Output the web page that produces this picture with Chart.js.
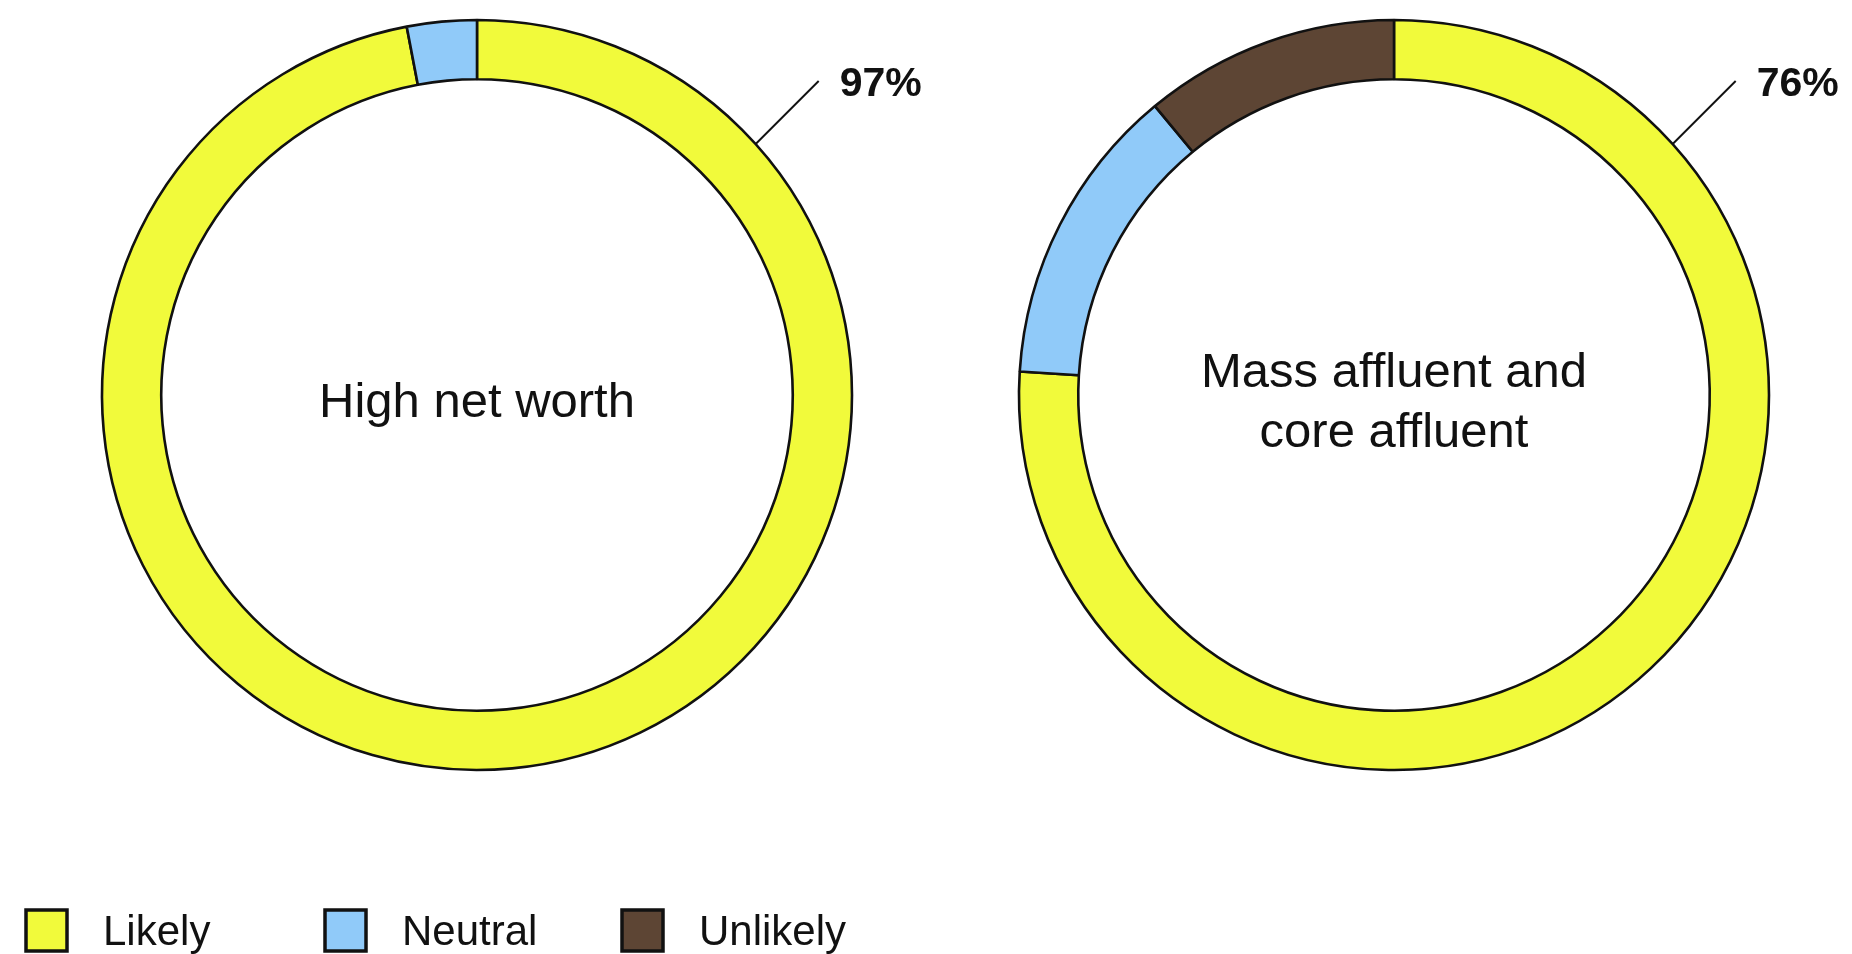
<!DOCTYPE html>
<html>
<head>
<meta charset="utf-8">
<title>Likelihood by wealth segment</title>
<script src="https://cdn.jsdelivr.net/npm/chart.js@4/dist/chart.umd.min.js"></script>
<style>
  html, body { margin: 0; padding: 0; background: #ffffff; }
  #wrap { position: relative; width: 1852px; height: 954px; overflow: hidden; }
  #wrap canvas { position: absolute; left: 0; top: 0; }
</style>
</head>
<body>
<div id="wrap">
  <canvas id="hnw" width="1852" height="954"></canvas>
  <canvas id="mass" width="1852" height="954"></canvas>
</div>
<script>
// Response categories and their colours
const categories = ['Likely', 'Neutral', 'Unlikely'];
const categoryColors = ['#F1FA3B', '#90CAF9', '#5D4534'];

// Share of respondents (%) per segment
const highNetWorthValues = [97, 3, 0];
const massAffluentValues = [76, 13, 11];

// Segment names shown inside each ring
const highNetWorthTitle = ['High net worth'];
const massAffluentTitle = ['Mass affluent and', 'core affluent'];

const FONT = '"Liberation Sans", Arial, Helvetica, sans-serif';

// Text in the ring centre plus the callout for the first category
const ringText = {
  id: 'ringText',
  afterDatasetsDraw(chart, args, opts) {
    const ctx = chart.ctx;
    const arc = chart.getDatasetMeta(0).data[0];
    const cx = arc.x, cy = arc.y, r = arc.outerRadius;

    ctx.save();
    ctx.fillStyle = '#111111';
    ctx.textAlign = 'center';
    ctx.textBaseline = 'middle';
    ctx.font = '49px ' + FONT;
    const lines = opts.title;
    const lh = 60;
    lines.forEach((line, i) => {
      ctx.fillText(line, cx, cy + (i - (lines.length - 1) / 2) * lh + 8);
    });

    // leader line from the outer edge up and to the right
    const a = 48 * Math.PI / 180;
    const sx = cx + r * Math.sin(a);
    const sy = cy - r * Math.cos(a);
    const ex = sx + 63, ey = sy - 63;
    ctx.strokeStyle = '#111111';
    ctx.lineWidth = 2;
    ctx.beginPath();
    ctx.moveTo(sx, sy);
    ctx.lineTo(ex, ey);
    ctx.stroke();

    const value = chart.data.datasets[0].data[0];
    ctx.font = 'bold 41px ' + FONT;
    ctx.textAlign = 'left';
    ctx.textBaseline = 'alphabetic';
    ctx.fillText(value + '%', ex + 21, ey + 15);
    ctx.restore();
  }
};

// Shared legend along the bottom edge
const bottomLegend = {
  id: 'bottomLegend',
  afterDraw(chart, args, opts) {
    if (!opts.display) return;
    const ctx = chart.ctx;
    const xs = [26, 325, 622];
    const top = 910, size = 41;
    ctx.save();
    categories.forEach((label, i) => {
      const x = xs[i];
      ctx.fillStyle = categoryColors[i];
      ctx.fillRect(x, top, size, size);
      ctx.strokeStyle = '#111111';
      ctx.lineWidth = 3.5;
      ctx.strokeRect(x, top, size, size);
      ctx.fillStyle = '#111111';
      ctx.font = '42px ' + FONT;
      ctx.textAlign = 'left';
      ctx.textBaseline = 'alphabetic';
      ctx.fillText(label, x + 77, 945);
    });
    ctx.restore();
  }
};

function ring(id, values, title, padding, showLegend) {
  return new Chart(document.getElementById(id), {
    type: 'doughnut',
    data: {
      labels: categories,
      datasets: [{
        data: values,
        backgroundColor: categoryColors,
        borderColor: '#111111',
        borderWidth: 2.6
      }]
    },
    options: {
      responsive: false,
      animation: false,
      events: [],
      radius: 375,
      cutout: '84.2%',
      layout: { padding: padding },
      plugins: {
        legend: { display: false },
        tooltip: { enabled: false },
        ringText: { title: title },
        bottomLegend: { display: showLegend }
      }
    },
    plugins: [ringText, bottomLegend]
  });
}

ring('hnw', highNetWorthValues, highNetWorthTitle,
     { left: 82, right: 980, top: 0, bottom: 164 }, true);
ring('mass', massAffluentValues, massAffluentTitle,
     { left: 999, right: 63, top: 0, bottom: 164 }, false);
</script>
</body>
</html>
